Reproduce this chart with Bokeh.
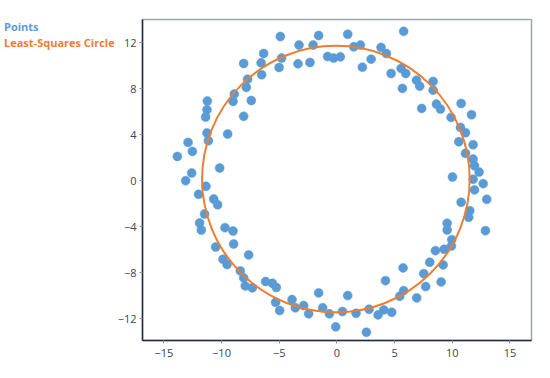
from bokeh.plotting import figure
from bokeh.models import Range1d, FixedTicker, Div
from bokeh.layouts import row
from bokeh.embed import file_html
from bokeh.resources import INLINE

# Points
px = [-4.9, -1.58, -3.28, -2.06, -6.35, -4.79, -8.08, -6.57, -5.01, -3.37, -2.33, -0.8, -0.28, 0.3,
      -6.52, -7.74, -7.85, -8.89, -9.0, -7.42, -8.08, -11.23, -11.26, -11.38, -11.26, -11.14, -9.47,
      -12.9, -12.53, -13.83, -12.59, -13.11, -10.16, -11.35,
      0.94, 5.79, 1.46, 2.04, 3.83, 4.29, 2.97, 2.21, 4.7, 5.57, 5.97, 5.68, 6.9, 7.18, 8.34, 8.34,
      7.35, 8.63, 8.98, 10.77, 11.67, 9.9, 10.71, 11.15, 10.57, 11.81, 11.15, 11.81, 11.93, 12.33,
      10.02, 11.81, 12.68, 11.93,
      -11.99, -10.68, -10.34, -11.47, -11.9, -11.75, -9.7, -9.0, -8.95, -10.51, -7.65, -9.87, -9.52,
      -8.37, -8.08, -7.94, -7.33, -6.18, -5.59, -5.25, -5.31, -4.96, -3.89, -3.6, -2.88, -2.45,
      -1.58, -1.23, -0.65, -0.1,
      0.48, 0.94, 1.66, 2.56, 2.79, 3.57, 4.06, 4.75, 4.21, 5.45, 5.79, 5.74, 6.92, 7.7, 7.53, 8.05,
      9.04, 9.21, 8.54, 9.3, 9.93, 9.96, 9.56, 9.56, 11.43, 11.52, 10.77, 12.99, 12.88]
py = [12.55, 12.64, 11.8, 11.8, 11.07, 10.67, 10.2, 10.26, 9.85, 10.17, 10.29, 10.81, 10.67, 10.78,
      9.22, 8.84, 8.12, 7.54, 6.9, 6.98, 5.6, 6.93, 6.17, 5.54, 4.15, 3.48, 4.06,
      3.33, 2.55, 2.11, 0.67, 0.0, 1.1, -0.49,
      12.75, 13.0, 11.65, 11.8, 11.6, 11.07, 10.58, 9.88, 9.33, 9.77, 9.33, 8.03, 8.75, 8.23, 8.64, 7.88,
      6.29, 6.67, 6.23, 6.72, 5.74, 5.51, 4.64, 4.17, 3.39, 3.13, 2.38, 1.88, 1.3, 0.75,
      0.32, 0.12, -0.26, -0.8,
      -1.19, -1.59, -2.09, -2.9, -3.68, -4.29, -4.09, -4.38, -5.51, -5.77, -6.46, -6.84, -7.3,
      -7.85, -8.46, -9.16, -9.33, -8.78, -8.93, -9.3, -10.58, -11.3, -10.35, -11.07, -10.87, -11.59,
      -9.77, -11.07, -11.59, -12.72,
      -11.39, -10.0, -11.54, -13.19, -11.19, -11.68, -11.25, -11.45, -8.7, -10.06, -9.57, -7.59, -10.2,
      -9.22, -8.09, -7.1, -8.81, -7.33, -6.09, -5.97, -5.68, -5.13, -4.29, -3.71, -3.19, -2.61, -1.88,
      -1.62, -4.35]

# Least-squares circle
circle_cx = -0.085
circle_cy = 0.14
circle_r = 11.6

x_ticks = [-15, -10, -5, 0, 5, 10, 15]
y_ticks = [-12, -8, -4, 0, 4, 8, 12]
legend_labels = ["Points", "Least-Squares Circle"]

BLUE = "#5B9BD5"
ORANGE = "#ED7D31"
FONT = "Open Sans"

LEFT_W = 114
p = figure(width=550 - LEFT_W, height=378, output_backend="svg", toolbar_location=None,
           x_range=Range1d(-16.85, 16.87), y_range=Range1d(-13.91, 14.03),
           min_border_left=142 - LEFT_W, min_border_right=19, min_border_top=19, min_border_bottom=38,
           margin=0)

p.xgrid.visible = False
p.ygrid.visible = False
p.outline_line_color = "#A0A6AE"
p.outline_line_width = 1.5
p.background_fill_color = "white"
p.border_fill_color = "white"

for ax in (p.xaxis[0], p.yaxis[0]):
    ax.axis_line_color = "#1E2B45"
    ax.axis_line_width = 1.5
    ax.major_tick_line_color = "#8A9099"
    ax.major_tick_out = 3
    ax.major_tick_in = 0
    ax.minor_tick_line_color = None
    ax.major_label_text_font = FONT
    ax.major_label_text_font_size = "11px"
    ax.major_label_text_color = "#3A4456"
    ax.major_label_standoff = 3
p.xaxis[0].major_label_standoff = 5

p.xaxis[0].ticker = FixedTicker(ticks=x_ticks)
p.yaxis[0].ticker = FixedTicker(ticks=y_ticks)

p.scatter(px, py, size=9, fill_color=BLUE, line_color=BLUE, line_width=0.5, fill_alpha=1)
p.ellipse(x=[circle_cx], y=[circle_cy], width=[2 * circle_r], height=[2 * circle_r],
          fill_color=None, line_color=ORANGE, line_width=2)

html = (
    f'<div style="position:relative;width:{LEFT_W}px;height:378px;overflow:visible;'
    f'font-family:\'{FONT}\';font-weight:bold;font-size:11px;line-height:16px;white-space:nowrap">'
    f'<div style="position:absolute;left:4px;top:19px;color:{BLUE}">{legend_labels[0]}</div>'
    f'<div style="position:absolute;left:4px;top:35px;color:{ORANGE}">{legend_labels[1]}</div>'
    f'</div>'
)
div = Div(text=html, width=LEFT_W, height=378, margin=0, styles={"overflow": "visible"})

layout = row(div, p, spacing=0, margin=0)

open("out.html", "w").write(file_html(layout, INLINE))
